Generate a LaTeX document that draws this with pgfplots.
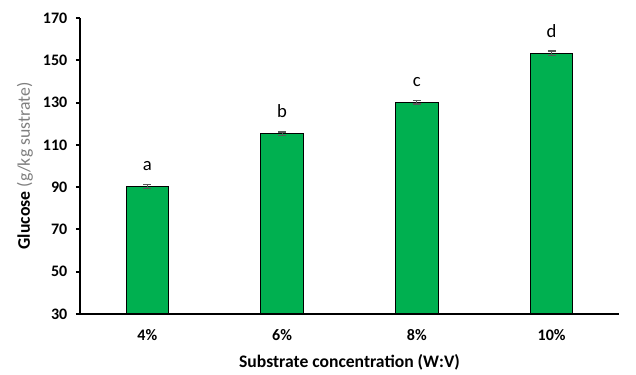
\documentclass[border=0pt]{standalone}
\usepackage{pgfplots}
\pgfplotsset{compat=1.18}
\usepackage{fontspec}
\setmainfont{Carlito}
\definecolor{bargreen}{HTML}{00B050}
\definecolor{errgray}{HTML}{595959}
\definecolor{labgray}{HTML}{7F7F7F}
\begin{document}
\begin{tikzpicture}
\path[use as bounding box] (-60pt,-45.75pt) rectangle (417pt,235.5pt);
\begin{axis}[
  scale only axis,
  width=404.25pt, height=222pt,
  at={(0,0)}, anchor=south west,
  xmin=-0.5, xmax=3.5,
  ymin=30, ymax=170,
  ytick={30,50,...,170},
  xtick={0,1,2,3},
  xticklabels={4\%,6\%,8\%,10\%},
  extra x ticks={0.5,1.5,2.5,3.5},
  extra x tick labels={},
  extra x tick style={major tick length=4pt, tick style={line width=1pt, black}},
  axis x line*=bottom, axis y line*=left,
  axis line style={line width=1.5pt, -},
  tick align=outside,
  major tick length=3pt,
  ytick style={line width=1.5pt, black},
  xtick style={draw=none},
  /pgf/number format/assume math mode=true,
  ticklabel style={font=\fontsize{12}{14}\selectfont\bfseries},
  yticklabel style={xshift=-3pt},
  xticklabel style={yshift=-5pt},
  xlabel={Substrate concentration (W:V)},
  xlabel style={font=\fontsize{13.2}{15}\selectfont\bfseries, at={(axis description cs:0.5,-0.162)}, anchor=center},
  ylabel={\textbf{Glucose} {\color{labgray}(g/kg sustrate)}},
  ylabel style={font=\fontsize{13.3}{15}\selectfont, at={(axis description cs:-0.102,0.5)}, anchor=center, rotate=0},
  clip=false,
]
\addplot[ybar, bar width=32pt, fill=bargreen, draw=black, line width=0.8pt,
  error bars/.cd, y dir=both, y explicit,
  error bar style={line width=0.9pt, errgray},
  error mark options={rotate=90, mark size=3pt, line width=0.9pt, errgray}]
  table[x=x, y=y, y error=e] {
x y e
0 90.3 0.9
1 115.3 0.8
2 130.2 0.9
3 153.4 1.0
};
\addplot[only marks, mark=none,
  nodes near coords, point meta=explicit symbolic,
  nodes near coords style={anchor=base, yshift=12pt, font=\fontsize{14}{16}\selectfont, black}]
  table[x=x, y=y, meta=l] {
x y l
0 90.3 a
1 115.3 b
2 130.2 c
3 153.4 d
};
\end{axis}
\end{tikzpicture}
\end{document}
